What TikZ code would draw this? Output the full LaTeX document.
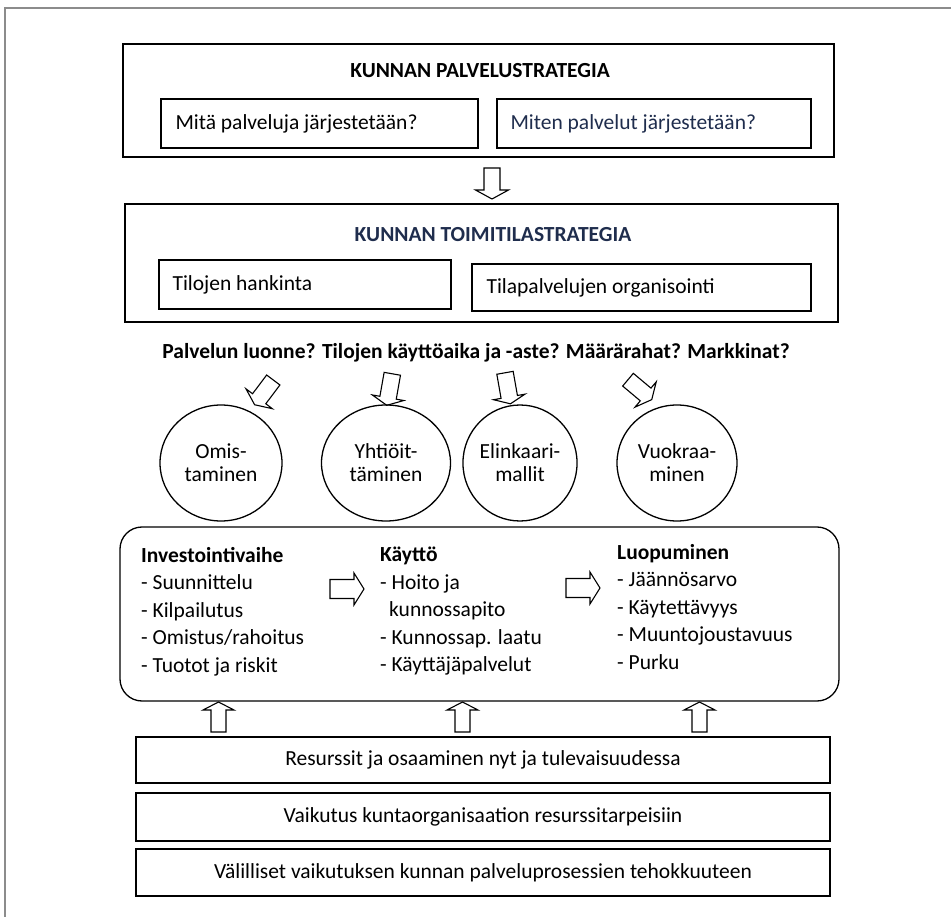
\documentclass[tikz,border=0pt]{standalone}
\usepackage{fontspec}
\setmainfont{Carlito}
\usetikzlibrary{shapes.geometric}
\definecolor{navy}{HTML}{1F2D4D}
\definecolor{framegray}{HTML}{8C8C8C}

% hollow block arrow: tail x, tail y (down), angle, length, head length, shaft half width, head half width
\newcommand{\hollowarrow}[7]{%
  \begin{scope}[shift={(#1,-#2)},rotate=#3]
    \draw[blockarrow] (0,-#6) -- ({#4-#5},-#6) -- ({#4-#5},-#7) -- (#4,0)
      -- ({#4-#5},#7) -- ({#4-#5},#6) -- (0,#6) -- cycle;
  \end{scope}}

\tikzset{
  txt/.style={font=\fontsize{21.5}{25}\selectfont, inner sep=0pt},
  strategybox/.style={draw, line width=2.8pt, inner sep=0pt},
  thinbox/.style={draw, line width=1.3pt, inner sep=0pt},
  model/.style={draw, ellipse, line width=1.3pt, inner sep=0pt, align=center,
    font=\fontsize{21.5}{23}\selectfont},
  blockarrow/.style={draw=black, fill=white, line width=1.1pt, line join=miter},
  column/.style={txt, align=left, anchor=north west,
    font=\fontsize{21.5}{27.5}\selectfont},
}

\begin{document}
\begin{tikzpicture}[x=1pt,y=1pt]
\useasboundingbox (0,0) rectangle (951,-917);

% page frame (top and left edges)
\draw[framegray, line width=1.6pt] (5,-917) -- (5,-8) -- (951,-8);

% service strategy
\node[strategybox, minimum width=711pt, minimum height=113pt] (ps) at (478.5,-100.5) {};
\node[txt, font=\bfseries\fontsize{21.5}{25}\selectfont] (pstitle) at (480,-71) {KUNNAN PALVELUSTRATEGIA};
\node[thinbox, minimum width=317pt, minimum height=49pt] (what) at (319.5,-123.5) {};
\node[txt, anchor=west] (whatt) at ([xshift=15pt]what.west) {Mitä palveluja järjestetään?};
\node[thinbox, minimum width=314pt, minimum height=49pt] (how) at (654,-123.5) {};
\node[txt, anchor=west, text=navy] (howt) at ([xshift=14pt]how.west) {Miten palvelut järjestetään?};

\hollowarrow{492}{168}{-90}{31}{9}{8}{16.5}

% premises strategy
\node[strategybox, minimum width=713pt, minimum height=118pt] (ts) at (481.5,-263) {};
\node[txt, font=\bfseries\fontsize{21.5}{25}\selectfont, text=navy] (tstitle) at (493,-235) {KUNNAN TOIMITILASTRATEGIA};
\node[thinbox, minimum width=292pt, minimum height=49pt] (acq) at (305,-284.5) {};
\node[txt, anchor=west] (acqt) at ([xshift=14pt]acq.west) {Tilojen hankinta};
\node[thinbox, minimum width=339pt, minimum height=47pt] (org) at (641.5,-287.5) {};
\node[txt, anchor=west] (orgt) at ([xshift=15pt]org.west) {Tilapalvelujen organisointi};

% guiding questions
\node[txt, font=\bfseries\fontsize{21.5}{25}\selectfont] (questions) at (476,-353)
  {Palvelun luonne? Tilojen käyttöaika ja -aste? Määrärahat? Markkinat?};

\hollowarrow{273.3}{380}{233}{31}{7.5}{8.3}{16.5}
\hollowarrow{392.3}{373.8}{260}{32}{7.7}{8.3}{16}
\hollowarrow{505}{372.8}{280}{31.5}{7}{8.3}{16}
\hollowarrow{628}{379.7}{-40}{31}{8}{8.3}{16.5}

% ownership models
\node[model, minimum width=122pt, minimum height=116pt] (own) at (221,-463) {Omis-\\taminen};
\node[model, minimum width=129pt, minimum height=116pt] (corp) at (386,-463) {Yhtiöit-\\täminen};
\node[model, minimum width=113pt, minimum height=116pt] (life) at (520,-463) {Elinkaari-\\mallit};
\node[model, minimum width=120pt, minimum height=116pt] (rent) at (677,-463) {Vuokraa-\\minen};

% life-cycle phases
\node[thinbox, rounded corners=22pt, minimum width=719pt, minimum height=174pt] (cycle) at (479.5,-614) {};
\node[column] (invest) at (141,-547) {\textbf{Investointivaihe}\\- Suunnittelu\\- Kilpailutus\\- Omistus/rahoitus\\- Tuotot ja riskit};
\node[column] (use) at (380,-547) {\textbf{Käyttö}\\- Hoito ja\\\hspace*{9pt}kunnossapito\\- Kunnossap. laatu\\- Käyttäjäpalvelut};
\node[column] (exit) at (617,-544) {\textbf{Luopuminen}\\- Jäännösarvo\\- Käytettävyys\\- Muuntojoustavuus\\- Purku};

\hollowarrow{330}{589}{0}{34}{10}{9.5}{16}
\hollowarrow{566}{588}{0}{34}{10}{9.5}{16}

\hollowarrow{218.5}{732}{90}{30}{8}{7.5}{15.5}
\hollowarrow{462.5}{732}{90}{30}{8}{7.5}{15.5}
\hollowarrow{699.5}{732}{90}{30}{8}{7.5}{15.5}

% resources and effects
\node[thinbox, minimum width=694pt, minimum height=46pt, txt] (res) at (483,-760)
  {Resurssit ja osaaminen nyt ja tulevaisuudessa};
\node[thinbox, minimum width=694pt, minimum height=48pt, txt] (needs) at (483,-817)
  {Vaikutus kuntaorganisaation resurssitarpeisiin};
\node[thinbox, minimum width=694pt, minimum height=47pt, txt] (indirect) at (483,-872.5)
  {Välilliset vaikutuksen kunnan palveluprosessien tehokkuuteen};
\end{tikzpicture}
\end{document}
